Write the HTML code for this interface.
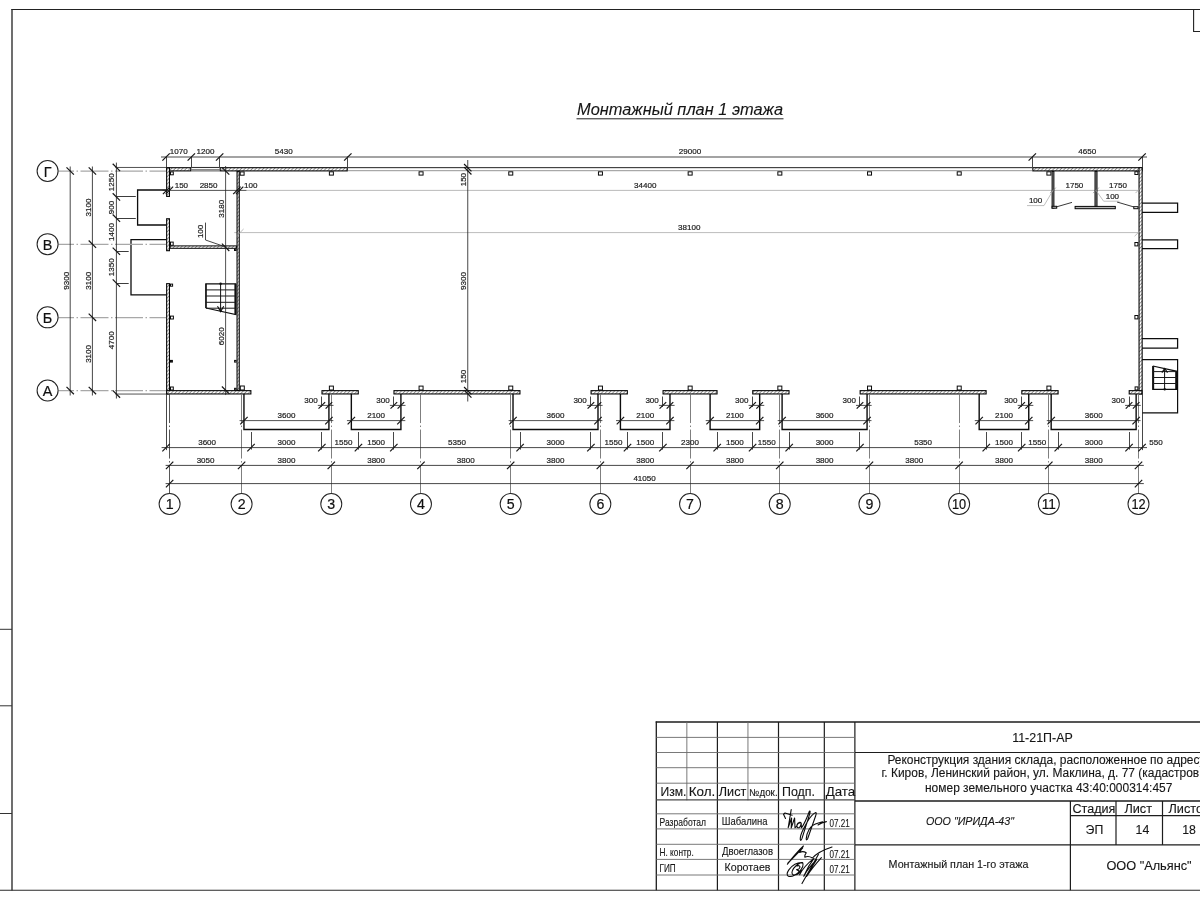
<!DOCTYPE html>
<html lang="ru">
<head>
<meta charset="utf-8">
<title>Монтажный план 1 этажа</title>
<style>
html,body{margin:0;padding:0;background:#fff;}
body{width:1200px;height:900px;overflow:hidden;font-family:"Liberation Sans",sans-serif;}
svg{display:block;will-change:transform;font-family:"Liberation Sans",sans-serif;}
</style>
</head>
<body>
<svg width="1200" height="900" viewBox="0 0 1200 900">
<defs>
<pattern id="h" width="2.6" height="2.6" patternUnits="userSpaceOnUse" patternTransform="rotate(-45)">
<rect width="2.6" height="2.6" fill="#ffffff"/>
<line x1="0" y1="1.3" x2="2.6" y2="1.3" stroke="#808080" stroke-width="0.8"/>
</pattern>
</defs>
<g id="plan" opacity="0.999">
<line x1="246.5" y1="190.4" x2="1138.5" y2="190.4" stroke="#a9a9a9" stroke-width="0.8"/>
<line x1="234.3" y1="232.6" x2="1138.5" y2="232.6" stroke="#a9a9a9" stroke-width="0.8"/>
<polyline points="243.95,394.05 243.95,429.5 328.92,429.5 328.92,394.05" fill="none" stroke="#0d0d0d" stroke-width="1.4" />
<polyline points="351.34,394.05 351.34,429.5 400.91,429.5 400.91,394.05" fill="none" stroke="#0d0d0d" stroke-width="1.4" />
<polyline points="513.02,394.05 513.02,429.5 597.99,429.5 597.99,394.05" fill="none" stroke="#0d0d0d" stroke-width="1.4" />
<polyline points="620.42,394.05 620.42,429.5 669.98,429.5 669.98,394.05" fill="none" stroke="#0d0d0d" stroke-width="1.4" />
<polyline points="710.11,394.05 710.11,429.5 759.68,429.5 759.68,394.05" fill="none" stroke="#0d0d0d" stroke-width="1.4" />
<polyline points="782.1,394.05 782.1,429.5 867.07,429.5 867.07,394.05" fill="none" stroke="#0d0d0d" stroke-width="1.4" />
<polyline points="979.18,394.05 979.18,429.5 1028.75,429.5 1028.75,394.05" fill="none" stroke="#0d0d0d" stroke-width="1.4" />
<polyline points="1051.17,394.05 1051.17,429.5 1136.14,429.5 1136.14,394.05" fill="none" stroke="#0d0d0d" stroke-width="1.4" />
<rect x="166.65" y="167.7" width="24.11" height="3.2" fill="url(#h)" stroke="#050505" stroke-width="1.1"/>
<rect x="220.19" y="167.7" width="127.06" height="3.2" fill="url(#h)" stroke="#050505" stroke-width="1.1"/>
<rect x="1032.84" y="167.7" width="109.31" height="3.2" fill="url(#h)" stroke="#050505" stroke-width="1.1"/>
<line x1="191.31" y1="167.46" x2="219.64" y2="167.46" stroke="#111" stroke-width="0.9" />
<line x1="191.31" y1="169.46" x2="219.64" y2="169.46" stroke="#333" stroke-width="0.6" />
<line x1="191.31" y1="170.9" x2="219.64" y2="170.9" stroke="#222" stroke-width="0.8" />
<line x1="347.8" y1="167.66" x2="1032.29" y2="167.66" stroke="#222" stroke-width="1.0" />
<line x1="347.8" y1="170.7" x2="1032.29" y2="170.7" stroke="#777" stroke-width="0.8" />
<rect x="166.65" y="167.85" width="2.8" height="28.56" fill="url(#h)" stroke="#050505" stroke-width="1.1"/>
<rect x="166.65" y="218.76" width="2.8" height="31.94" fill="url(#h)" stroke="#050505" stroke-width="1.1"/>
<rect x="166.65" y="283.66" width="2.8" height="110.29" fill="url(#h)" stroke="#050505" stroke-width="1.1"/>
<rect x="1139.05" y="167.7" width="3.1" height="226.25" fill="url(#h)" stroke="#050505" stroke-width="1.1"/>
<rect x="166.65" y="390.65" width="84.23" height="3.3" fill="url(#h)" stroke="#050505" stroke-width="1.1"/>
<rect x="321.99" y="390.65" width="36.28" height="3.3" fill="url(#h)" stroke="#050505" stroke-width="1.1"/>
<rect x="393.98" y="390.65" width="125.98" height="3.3" fill="url(#h)" stroke="#050505" stroke-width="1.1"/>
<rect x="591.06" y="390.65" width="36.28" height="3.3" fill="url(#h)" stroke="#050505" stroke-width="1.1"/>
<rect x="663.05" y="390.65" width="53.99" height="3.3" fill="url(#h)" stroke="#050505" stroke-width="1.1"/>
<rect x="752.74" y="390.65" width="36.28" height="3.3" fill="url(#h)" stroke="#050505" stroke-width="1.1"/>
<rect x="860.14" y="390.65" width="125.98" height="3.3" fill="url(#h)" stroke="#050505" stroke-width="1.1"/>
<rect x="1021.82" y="390.65" width="36.28" height="3.3" fill="url(#h)" stroke="#050505" stroke-width="1.1"/>
<rect x="1129.21" y="390.65" width="12.68" height="3.3" fill="url(#h)" stroke="#050505" stroke-width="1.1"/>
<rect x="237.05" y="171.35" width="2.2" height="219.1" fill="url(#h)" stroke="#050505" stroke-width="1.1"/>
<rect x="170.1" y="245.9" width="66.3" height="2.4" fill="url(#h)" stroke="#050505" stroke-width="1.0"/>
<polyline points="166.06,190 137.6,190 137.6,225 166.06,225" fill="none" stroke="#0d0d0d" stroke-width="1.3" />
<polyline points="166.06,239.7 131,239.7 131,294.8 166.06,294.8" fill="none" stroke="#0d0d0d" stroke-width="1.3" />
<polyline points="1142.04,203.2 1177.6,203.2 1177.6,212.4 1142.04,212.4" fill="none" stroke="#0d0d0d" stroke-width="1.25" />
<polyline points="1142.04,239.8 1177.6,239.8 1177.6,248.5 1142.04,248.5" fill="none" stroke="#0d0d0d" stroke-width="1.25" />
<polyline points="1142.04,338.7 1177.6,338.7 1177.6,348.2 1142.04,348.2" fill="none" stroke="#0d0d0d" stroke-width="1.25" />
<polyline points="1142.04,359.6 1177.6,359.6 1177.6,412.8 1142.04,412.8" fill="none" stroke="#0d0d0d" stroke-width="1.2" />
<polyline points="1152.8,366 1152.8,389.3 1177,389.3 1177,371.3 1152.8,366" fill="none" stroke="#0d0d0d" stroke-width="1.2" />
<line x1="1153.3" y1="366.2" x2="1153.3" y2="389.3" stroke="#111" stroke-width="1.7" />
<line x1="1176.4" y1="371.2" x2="1176.4" y2="389.6" stroke="#0a0a0a" stroke-width="2.4" />
<line x1="1152.8" y1="371.6" x2="1177" y2="371.6" stroke="#1a1a1a" stroke-width="1.0" />
<line x1="1152.8" y1="377.5" x2="1177" y2="377.5" stroke="#1a1a1a" stroke-width="1.0" />
<line x1="1152.8" y1="383.5" x2="1177" y2="383.5" stroke="#1a1a1a" stroke-width="1.0" />
<line x1="1164.6" y1="389.4" x2="1164.6" y2="368.9" stroke="#111" stroke-width="1.0" />
<polyline points="1161.9,372.6 1164.7,368.5 1167.5,372.6" fill="none" stroke="#0d0d0d" stroke-width="1.1" />
<circle cx="1164.7" cy="389.3" r="1.2" fill="#111"/>
<polyline points="205.9,308 205.9,283.8 235.7,283.8 235.7,314.6 205.9,308" fill="none" stroke="#0d0d0d" stroke-width="1.2" />
<line x1="206" y1="283.8" x2="206" y2="308" stroke="#111" stroke-width="1.3" />
<line x1="235.4" y1="283.8" x2="235.4" y2="314.6" stroke="#111" stroke-width="2.0" />
<line x1="205.9" y1="289.9" x2="235.7" y2="289.9" stroke="#1a1a1a" stroke-width="1.0" />
<line x1="205.9" y1="296" x2="235.7" y2="296" stroke="#1a1a1a" stroke-width="1.0" />
<line x1="205.9" y1="302.3" x2="235.7" y2="302.3" stroke="#1a1a1a" stroke-width="1.0" />
<line x1="205.9" y1="308.2" x2="235.7" y2="308.2" stroke="#1a1a1a" stroke-width="1.0" />
<line x1="220.6" y1="283.8" x2="220.6" y2="311.2" stroke="#111" stroke-width="1.0" />
<polyline points="217.5,306.3 220.6,311.6 223.7,306.3" fill="none" stroke="#0d0d0d" stroke-width="1.1" />
<circle cx="220.6" cy="283.8" r="1.25" fill="#111"/>
<rect x="1052.1" y="171.3" width="1.8" height="36.8" fill="#9c9c9c" stroke="#050505" stroke-width="1.0"/>
<rect x="1052.1" y="206.3" width="4.6" height="1.9" fill="#ccc" stroke="#0a0a0a" stroke-width="1.0"/>
<rect x="1095.03" y="171.33" width="1.95" height="35.15" fill="#9c9c9c" stroke="#050505" stroke-width="1.05"/>
<rect x="1075.1" y="206.4" width="40.2" height="2.3" fill="#b5b5b5" stroke="#050505" stroke-width="1.0"/>
<line x1="1056" y1="207" x2="1072" y2="202.4" stroke="#222" stroke-width="0.9" />
<line x1="1117" y1="202" x2="1134" y2="207" stroke="#222" stroke-width="0.9" />
<rect x="329.38" y="171.8" width="4" height="3.3" fill="#fff" stroke="#0a0a0a" stroke-width="1.0"/>
<rect x="419.07" y="171.8" width="4" height="3.3" fill="#fff" stroke="#0a0a0a" stroke-width="1.0"/>
<rect x="508.76" y="171.8" width="4" height="3.3" fill="#fff" stroke="#0a0a0a" stroke-width="1.0"/>
<rect x="598.45" y="171.8" width="4" height="3.3" fill="#fff" stroke="#0a0a0a" stroke-width="1.0"/>
<rect x="688.15" y="171.8" width="4" height="3.3" fill="#fff" stroke="#0a0a0a" stroke-width="1.0"/>
<rect x="777.84" y="171.8" width="4" height="3.3" fill="#fff" stroke="#0a0a0a" stroke-width="1.0"/>
<rect x="867.53" y="171.8" width="4" height="3.3" fill="#fff" stroke="#0a0a0a" stroke-width="1.0"/>
<rect x="957.22" y="171.8" width="4" height="3.3" fill="#fff" stroke="#0a0a0a" stroke-width="1.0"/>
<rect x="1046.91" y="171.8" width="4" height="3.3" fill="#fff" stroke="#0a0a0a" stroke-width="1.0"/>
<rect x="240.3" y="386" width="4" height="4" fill="#fff" stroke="#0a0a0a" stroke-width="1.0"/>
<rect x="329.38" y="386.1" width="4" height="3.9" fill="#fff" stroke="#0a0a0a" stroke-width="1.0"/>
<rect x="419.07" y="386.1" width="4" height="3.9" fill="#fff" stroke="#0a0a0a" stroke-width="1.0"/>
<rect x="508.76" y="386.1" width="4" height="3.9" fill="#fff" stroke="#0a0a0a" stroke-width="1.0"/>
<rect x="598.45" y="386.1" width="4" height="3.9" fill="#fff" stroke="#0a0a0a" stroke-width="1.0"/>
<rect x="688.15" y="386.1" width="4" height="3.9" fill="#fff" stroke="#0a0a0a" stroke-width="1.0"/>
<rect x="777.84" y="386.1" width="4" height="3.9" fill="#fff" stroke="#0a0a0a" stroke-width="1.0"/>
<rect x="867.53" y="386.1" width="4" height="3.9" fill="#fff" stroke="#0a0a0a" stroke-width="1.0"/>
<rect x="957.22" y="386.1" width="4" height="3.9" fill="#fff" stroke="#0a0a0a" stroke-width="1.0"/>
<rect x="1046.91" y="386.1" width="4" height="3.9" fill="#fff" stroke="#0a0a0a" stroke-width="1.0"/>
<rect x="170.5" y="171.9" width="2.8" height="2.9" fill="#fff" stroke="#0a0a0a" stroke-width="1.0"/>
<rect x="240.2" y="171.9" width="3.9" height="3.3" fill="#fff" stroke="#0a0a0a" stroke-width="1.0"/>
<rect x="170.5" y="242.1" width="2.7" height="3.2" fill="#fff" stroke="#0a0a0a" stroke-width="1.0"/>
<rect x="170.5" y="284.1" width="2.1" height="2.1" fill="#fff" stroke="#0a0a0a" stroke-width="1.0"/>
<rect x="170.5" y="316.1" width="2.9" height="2.9" fill="#fff" stroke="#0a0a0a" stroke-width="1.0"/>
<rect x="170.5" y="360.4" width="1.9" height="1.7" fill="#fff" stroke="#0a0a0a" stroke-width="1.0"/>
<rect x="170.5" y="387" width="2.8" height="3" fill="#fff" stroke="#0a0a0a" stroke-width="1.0"/>
<rect x="234.5" y="249.1" width="1.6" height="1.4" fill="#fff" stroke="#0a0a0a" stroke-width="1.0"/>
<rect x="234.6" y="360.4" width="1.5" height="1.7" fill="#fff" stroke="#0a0a0a" stroke-width="1.0"/>
<rect x="234.6" y="388.3" width="1.5" height="1.7" fill="#fff" stroke="#0a0a0a" stroke-width="1.0"/>
<rect x="1134.9" y="171.7" width="3" height="2.8" fill="#fff" stroke="#0a0a0a" stroke-width="1.0"/>
<rect x="1133.8" y="206.7" width="4.2" height="2" fill="#fff" stroke="#0a0a0a" stroke-width="1.0"/>
<rect x="1134.9" y="242.5" width="3" height="3.4" fill="#fff" stroke="#0a0a0a" stroke-width="1.0"/>
<rect x="1134.9" y="315.5" width="3" height="3.4" fill="#fff" stroke="#0a0a0a" stroke-width="1.0"/>
<rect x="1135.1" y="386.9" width="2.8" height="3.1" fill="#fff" stroke="#0a0a0a" stroke-width="1.0"/>
<line x1="12" y1="9.5" x2="12" y2="890.5" stroke="#555" stroke-width="1.7" />
<line x1="11.2" y1="9.5" x2="1200" y2="9.5" stroke="#222" stroke-width="1.2" />
<line x1="0" y1="890.3" x2="1200" y2="890.3" stroke="#2a2a2a" stroke-width="1.1" />
<line x1="0" y1="629.3" x2="12" y2="629.3" stroke="#333" stroke-width="1.0" />
<line x1="0" y1="705.8" x2="12" y2="705.8" stroke="#333" stroke-width="1.0" />
<line x1="0" y1="813.5" x2="12" y2="813.5" stroke="#333" stroke-width="1.0" />
<polyline points="1193.6,9.5 1193.6,31.5 1200,31.5" fill="none" stroke="#222" stroke-width="1.1" />
<text x="577" y="114.6" font-size="16.2" text-anchor="start" fill="#151515" stroke="#151515" stroke-width="0.1" font-style="italic" textLength="206" lengthAdjust="spacingAndGlyphs">Монтажный план 1 этажа</text>
<line x1="576.5" y1="118.8" x2="783.5" y2="118.8" stroke="#222" stroke-width="1.0" />
<line x1="58.3" y1="171.2" x2="166.06" y2="171.2" stroke="#a8a8a8" stroke-width="1.2" stroke-dasharray="28 2.5 1.5 2.5" stroke-dashoffset="12.3"/>
<line x1="58.3" y1="244.37" x2="166.06" y2="244.37" stroke="#a8a8a8" stroke-width="1.2" stroke-dasharray="28 2.5 1.5 2.5" stroke-dashoffset="12.3"/>
<line x1="58.3" y1="317.54" x2="166.06" y2="317.54" stroke="#a8a8a8" stroke-width="1.2" stroke-dasharray="28 2.5 1.5 2.5" stroke-dashoffset="12.3"/>
<line x1="58.3" y1="390.71" x2="166.06" y2="390.71" stroke="#a8a8a8" stroke-width="1.2" stroke-dasharray="28 2.5 1.5 2.5" stroke-dashoffset="12.3"/>
<line x1="169.5" y1="394.05" x2="169.5" y2="493.5" stroke="#444" stroke-width="0.9" stroke-dasharray="29 2.5 1.5 2.5"/>
<line x1="241.5" y1="394.05" x2="241.5" y2="493.5" stroke="#707070" stroke-width="0.9" stroke-dasharray="29 2.5 1.5 2.5"/>
<line x1="331.5" y1="394.05" x2="331.5" y2="493.5" stroke="#707070" stroke-width="0.9" stroke-dasharray="29 2.5 1.5 2.5"/>
<line x1="420.5" y1="394.05" x2="420.5" y2="493.5" stroke="#707070" stroke-width="0.9" stroke-dasharray="29 2.5 1.5 2.5"/>
<line x1="510.5" y1="394.05" x2="510.5" y2="493.5" stroke="#707070" stroke-width="0.9" stroke-dasharray="29 2.5 1.5 2.5"/>
<line x1="600.5" y1="394.05" x2="600.5" y2="493.5" stroke="#707070" stroke-width="0.9" stroke-dasharray="29 2.5 1.5 2.5"/>
<line x1="690.5" y1="394.05" x2="690.5" y2="493.5" stroke="#707070" stroke-width="0.9" stroke-dasharray="29 2.5 1.5 2.5"/>
<line x1="779.5" y1="394.05" x2="779.5" y2="493.5" stroke="#707070" stroke-width="0.9" stroke-dasharray="29 2.5 1.5 2.5"/>
<line x1="869.5" y1="394.05" x2="869.5" y2="493.5" stroke="#707070" stroke-width="0.9" stroke-dasharray="29 2.5 1.5 2.5"/>
<line x1="959.5" y1="394.05" x2="959.5" y2="493.5" stroke="#707070" stroke-width="0.9" stroke-dasharray="29 2.5 1.5 2.5"/>
<line x1="1048.5" y1="394.05" x2="1048.5" y2="493.5" stroke="#707070" stroke-width="0.9" stroke-dasharray="29 2.5 1.5 2.5"/>
<line x1="1138.5" y1="394.05" x2="1138.5" y2="493.5" stroke="#707070" stroke-width="0.9" stroke-dasharray="29 2.5 1.5 2.5"/>
<circle cx="47.6" cy="171" r="10.5" fill="#fff" stroke="#222" stroke-width="1.05"/>
<text x="47.6" y="176.5" font-size="14.4" text-anchor="middle" fill="#111" stroke="#111" stroke-width="0.2" >Г</text>
<circle cx="47.6" cy="244.17" r="10.5" fill="#fff" stroke="#222" stroke-width="1.05"/>
<text x="47.6" y="249.67" font-size="14.4" text-anchor="middle" fill="#111" stroke="#111" stroke-width="0.2" >В</text>
<circle cx="47.6" cy="317.34" r="10.5" fill="#fff" stroke="#222" stroke-width="1.05"/>
<text x="47.6" y="322.84" font-size="14.4" text-anchor="middle" fill="#111" stroke="#111" stroke-width="0.2" >Б</text>
<circle cx="47.6" cy="390.51" r="10.5" fill="#fff" stroke="#222" stroke-width="1.05"/>
<text x="47.6" y="396.01" font-size="14.4" text-anchor="middle" fill="#111" stroke="#111" stroke-width="0.2" >А</text>
<circle cx="169.6" cy="504" r="10.5" fill="#fff" stroke="#222" stroke-width="1.05"/>
<text x="169.6" y="509.1" font-size="14.2" text-anchor="middle" fill="#111" stroke="#111" stroke-width="0.2" >1</text>
<circle cx="241.59" cy="504" r="10.5" fill="#fff" stroke="#222" stroke-width="1.05"/>
<text x="241.59" y="509.1" font-size="14.2" text-anchor="middle" fill="#111" stroke="#111" stroke-width="0.2" >2</text>
<circle cx="331.28" cy="504" r="10.5" fill="#fff" stroke="#222" stroke-width="1.05"/>
<text x="331.28" y="509.1" font-size="14.2" text-anchor="middle" fill="#111" stroke="#111" stroke-width="0.2" >3</text>
<circle cx="420.97" cy="504" r="10.5" fill="#fff" stroke="#222" stroke-width="1.05"/>
<text x="420.97" y="509.1" font-size="14.2" text-anchor="middle" fill="#111" stroke="#111" stroke-width="0.2" >4</text>
<circle cx="510.66" cy="504" r="10.5" fill="#fff" stroke="#222" stroke-width="1.05"/>
<text x="510.66" y="509.1" font-size="14.2" text-anchor="middle" fill="#111" stroke="#111" stroke-width="0.2" >5</text>
<circle cx="600.35" cy="504" r="10.5" fill="#fff" stroke="#222" stroke-width="1.05"/>
<text x="600.35" y="509.1" font-size="14.2" text-anchor="middle" fill="#111" stroke="#111" stroke-width="0.2" >6</text>
<circle cx="690.05" cy="504" r="10.5" fill="#fff" stroke="#222" stroke-width="1.05"/>
<text x="690.05" y="509.1" font-size="14.2" text-anchor="middle" fill="#111" stroke="#111" stroke-width="0.2" >7</text>
<circle cx="779.74" cy="504" r="10.5" fill="#fff" stroke="#222" stroke-width="1.05"/>
<text x="779.74" y="509.1" font-size="14.2" text-anchor="middle" fill="#111" stroke="#111" stroke-width="0.2" >8</text>
<circle cx="869.43" cy="504" r="10.5" fill="#fff" stroke="#222" stroke-width="1.05"/>
<text x="869.43" y="509.1" font-size="14.2" text-anchor="middle" fill="#111" stroke="#111" stroke-width="0.2" >9</text>
<circle cx="959.12" cy="504" r="10.5" fill="#fff" stroke="#222" stroke-width="1.05"/>
<text x="959.12" y="509.1" font-size="14.2" text-anchor="middle" fill="#111" stroke="#111" stroke-width="0.2" textLength="14.2" lengthAdjust="spacingAndGlyphs">10</text>
<circle cx="1048.81" cy="504" r="10.5" fill="#fff" stroke="#222" stroke-width="1.05"/>
<text x="1048.81" y="509.1" font-size="14.2" text-anchor="middle" fill="#111" stroke="#111" stroke-width="0.2" textLength="14.2" lengthAdjust="spacingAndGlyphs">11</text>
<circle cx="1138.5" cy="504" r="10.5" fill="#fff" stroke="#222" stroke-width="1.05"/>
<text x="1138.5" y="509.1" font-size="14.2" text-anchor="middle" fill="#111" stroke="#111" stroke-width="0.2" textLength="14.2" lengthAdjust="spacingAndGlyphs">12</text>
<line x1="70.2" y1="166.5" x2="70.2" y2="395.51" stroke="#262626" stroke-width="0.85" />
<line x1="66.5" y1="167.3" x2="73.9" y2="174.7" stroke="#151515" stroke-width="1.2" />
<line x1="66.5" y1="386.81" x2="73.9" y2="394.21" stroke="#151515" stroke-width="1.2" />
<text x="68.6" y="280.75" font-size="8.05" text-anchor="middle" fill="#1c1c1c" stroke="#1c1c1c" stroke-width="0.2" transform="rotate(-90 68.6 280.75)" >9300</text>
<line x1="92.4" y1="166.5" x2="92.4" y2="395.51" stroke="#262626" stroke-width="0.85" />
<line x1="88.7" y1="167.3" x2="96.1" y2="174.7" stroke="#151515" stroke-width="1.2" />
<line x1="88.7" y1="240.47" x2="96.1" y2="247.87" stroke="#151515" stroke-width="1.2" />
<line x1="88.7" y1="313.64" x2="96.1" y2="321.04" stroke="#151515" stroke-width="1.2" />
<line x1="88.7" y1="386.81" x2="96.1" y2="394.21" stroke="#151515" stroke-width="1.2" />
<text x="91" y="207.58" font-size="8.05" text-anchor="middle" fill="#1c1c1c" stroke="#1c1c1c" stroke-width="0.2" transform="rotate(-90 91 207.58)" >3100</text>
<text x="91" y="280.75" font-size="8.05" text-anchor="middle" fill="#1c1c1c" stroke="#1c1c1c" stroke-width="0.2" transform="rotate(-90 91 280.75)" >3100</text>
<text x="91" y="353.92" font-size="8.05" text-anchor="middle" fill="#1c1c1c" stroke="#1c1c1c" stroke-width="0.2" transform="rotate(-90 91 353.92)" >3100</text>
<line x1="116.4" y1="162.6" x2="116.4" y2="398.55" stroke="#262626" stroke-width="0.85" />
<line x1="112.7" y1="163.76" x2="120.1" y2="171.16" stroke="#151515" stroke-width="1.2" />
<line x1="112.7" y1="193.26" x2="120.1" y2="200.66" stroke="#151515" stroke-width="1.2" />
<line x1="112.7" y1="214.51" x2="120.1" y2="221.91" stroke="#151515" stroke-width="1.2" />
<line x1="112.7" y1="247.55" x2="120.1" y2="254.95" stroke="#151515" stroke-width="1.2" />
<line x1="112.7" y1="279.41" x2="120.1" y2="286.81" stroke="#151515" stroke-width="1.2" />
<line x1="112.7" y1="390.35" x2="120.1" y2="397.75" stroke="#151515" stroke-width="1.2" />
<line x1="115.4" y1="167.46" x2="166.06" y2="167.46" stroke="#262626" stroke-width="0.8" />
<line x1="116.4" y1="196.5" x2="135.8" y2="196.5" stroke="#262626" stroke-width="0.9" />
<line x1="116.4" y1="218.5" x2="135.8" y2="218.5" stroke="#262626" stroke-width="0.9" />
<line x1="116.4" y1="251.5" x2="128.7" y2="251.5" stroke="#262626" stroke-width="0.9" />
<line x1="116.4" y1="283.5" x2="128.7" y2="283.5" stroke="#262626" stroke-width="0.9" />
<line x1="115.4" y1="394.05" x2="166.06" y2="394.05" stroke="#262626" stroke-width="0.8" />
<text x="114.4" y="182.21" font-size="8.05" text-anchor="middle" fill="#1c1c1c" stroke="#1c1c1c" stroke-width="0.2" transform="rotate(-90 114.4 182.21)" >1250</text>
<text x="114.4" y="207.58" font-size="8.05" text-anchor="middle" fill="#1c1c1c" stroke="#1c1c1c" stroke-width="0.2" transform="rotate(-90 114.4 207.58)" >900</text>
<text x="114.4" y="232" font-size="8.05" text-anchor="middle" fill="#1c1c1c" stroke="#1c1c1c" stroke-width="0.2" transform="rotate(-90 114.4 232)" >1400</text>
<text x="114.4" y="267.18" font-size="8.05" text-anchor="middle" fill="#1c1c1c" stroke="#1c1c1c" stroke-width="0.2" transform="rotate(-90 114.4 267.18)" >1350</text>
<text x="114.4" y="340.3" font-size="8.05" text-anchor="middle" fill="#1c1c1c" stroke="#1c1c1c" stroke-width="0.2" transform="rotate(-90 114.4 340.3)" >4700</text>
<line x1="161" y1="157" x2="1147" y2="157" stroke="#262626" stroke-width="0.85" />
<line x1="162.36" y1="160.7" x2="169.76" y2="153.3" stroke="#151515" stroke-width="1.2" />
<line x1="166.5" y1="156.5" x2="166.5" y2="167.46" stroke="#262626" stroke-width="0.85" />
<line x1="187.61" y1="160.7" x2="195.01" y2="153.3" stroke="#151515" stroke-width="1.2" />
<line x1="191.5" y1="156.5" x2="191.5" y2="167.46" stroke="#262626" stroke-width="0.85" />
<line x1="215.94" y1="160.7" x2="223.34" y2="153.3" stroke="#151515" stroke-width="1.2" />
<line x1="219.5" y1="156.5" x2="219.5" y2="167.46" stroke="#262626" stroke-width="0.85" />
<line x1="344.1" y1="160.7" x2="351.5" y2="153.3" stroke="#151515" stroke-width="1.2" />
<line x1="347.5" y1="156.5" x2="347.5" y2="167.46" stroke="#262626" stroke-width="0.85" />
<line x1="1028.59" y1="160.7" x2="1035.99" y2="153.3" stroke="#151515" stroke-width="1.2" />
<line x1="1032.5" y1="156.5" x2="1032.5" y2="167.46" stroke="#262626" stroke-width="0.85" />
<line x1="1138.34" y1="160.7" x2="1145.74" y2="153.3" stroke="#151515" stroke-width="1.2" />
<line x1="1142.5" y1="156.5" x2="1142.5" y2="167.46" stroke="#262626" stroke-width="0.85" />
<text x="178.69" y="154.4" font-size="8.05" text-anchor="middle" fill="#1c1c1c" stroke="#1c1c1c" stroke-width="0.2" >1070</text>
<text x="205.48" y="154.4" font-size="8.05" text-anchor="middle" fill="#1c1c1c" stroke="#1c1c1c" stroke-width="0.2" >1200</text>
<text x="283.72" y="154.4" font-size="8.05" text-anchor="middle" fill="#1c1c1c" stroke="#1c1c1c" stroke-width="0.2" >5430</text>
<text x="690" y="154.4" font-size="8.05" text-anchor="middle" fill="#1c1c1c" stroke="#1c1c1c" stroke-width="0.2" >29000</text>
<text x="1087.17" y="154.4" font-size="8.05" text-anchor="middle" fill="#1c1c1c" stroke="#1c1c1c" stroke-width="0.2" >4650</text>
<line x1="162.5" y1="190.4" x2="246.5" y2="190.4" stroke="#262626" stroke-width="0.8" />
<line x1="162.9" y1="194.1" x2="170.3" y2="186.7" stroke="#151515" stroke-width="1.2" />
<line x1="165.7" y1="194.1" x2="173.1" y2="186.7" stroke="#151515" stroke-width="1.2" />
<line x1="233.2" y1="194.1" x2="240.6" y2="186.7" stroke="#151515" stroke-width="1.2" />
<line x1="235.9" y1="194.1" x2="243.3" y2="186.7" stroke="#151515" stroke-width="1.2" />
<text x="181.4" y="187.5" font-size="8.05" text-anchor="middle" fill="#1c1c1c" stroke="#1c1c1c" stroke-width="0.2" >150</text>
<text x="208.6" y="187.5" font-size="8.05" text-anchor="middle" fill="#1c1c1c" stroke="#1c1c1c" stroke-width="0.2" >2850</text>
<text x="250.8" y="187.5" font-size="8.05" text-anchor="middle" fill="#1c1c1c" stroke="#1c1c1c" stroke-width="0.2" >100</text>
<text x="645.2" y="187.6" font-size="8.05" text-anchor="middle" fill="#1c1c1c" stroke="#1c1c1c" stroke-width="0.2" >34400</text>
<line x1="236.4" y1="236.2" x2="243.6" y2="229" stroke="#a9a9a9" stroke-width="0.8" />
<line x1="1134.6" y1="236.2" x2="1141.8" y2="229" stroke="#a9a9a9" stroke-width="0.8" />
<text x="689.2" y="230.4" font-size="8.05" text-anchor="middle" fill="#1c1c1c" stroke="#1c1c1c" stroke-width="0.2" >38100</text>
<line x1="467.75" y1="160" x2="467.75" y2="401.5" stroke="#262626" stroke-width="0.85" />
<line x1="464.05" y1="163.96" x2="471.45" y2="171.36" stroke="#151515" stroke-width="1.2" />
<line x1="464.05" y1="167.1" x2="471.45" y2="174.5" stroke="#151515" stroke-width="1.2" />
<line x1="464.05" y1="387.01" x2="471.45" y2="394.41" stroke="#151515" stroke-width="1.2" />
<line x1="464.05" y1="390.15" x2="471.45" y2="397.55" stroke="#151515" stroke-width="1.2" />
<text x="465.7" y="179.6" font-size="8.05" text-anchor="middle" fill="#1c1c1c" stroke="#1c1c1c" stroke-width="0.2" transform="rotate(-90 465.7 179.6)" >150</text>
<text x="465.7" y="281" font-size="8.05" text-anchor="middle" fill="#1c1c1c" stroke="#1c1c1c" stroke-width="0.2" transform="rotate(-90 465.7 281)" >9300</text>
<text x="465.7" y="376.5" font-size="8.05" text-anchor="middle" fill="#1c1c1c" stroke="#1c1c1c" stroke-width="0.2" transform="rotate(-90 465.7 376.5)" >150</text>
<line x1="225.6" y1="166" x2="225.6" y2="395.05" stroke="#262626" stroke-width="0.8" />
<line x1="221.9" y1="167.3" x2="229.3" y2="174.7" stroke="#151515" stroke-width="1.2" />
<line x1="221.9" y1="243.6" x2="229.3" y2="251" stroke="#151515" stroke-width="1.2" />
<line x1="221.9" y1="386.51" x2="229.3" y2="393.91" stroke="#151515" stroke-width="1.2" />
<text x="223.8" y="208.8" font-size="8.05" text-anchor="middle" fill="#1c1c1c" stroke="#1c1c1c" stroke-width="0.2" transform="rotate(-90 223.8 208.8)" >3180</text>
<text x="223.8" y="336.3" font-size="8.05" text-anchor="middle" fill="#1c1c1c" stroke="#1c1c1c" stroke-width="0.2" transform="rotate(-90 223.8 336.3)" >6020</text>
<polyline points="205.5,222.6 205.5,240 225.8,247" fill="none" stroke="#262626" stroke-width="0.85" />
<text x="203.3" y="231.4" font-size="8.05" text-anchor="middle" fill="#1c1c1c" stroke="#1c1c1c" stroke-width="0.2" transform="rotate(-90 203.3 231.4)" >100</text>
<line x1="161.6" y1="447.6" x2="1147" y2="447.6" stroke="#262626" stroke-width="0.85" />
<line x1="162.36" y1="451.3" x2="169.76" y2="443.9" stroke="#151515" stroke-width="1.2" />
<line x1="166.5" y1="394.05" x2="166.5" y2="450.1" stroke="#262626" stroke-width="0.85" />
<line x1="247.33" y1="451.3" x2="254.73" y2="443.9" stroke="#151515" stroke-width="1.2" />
<line x1="251.5" y1="432" x2="251.5" y2="449.6" stroke="#262626" stroke-width="0.85" />
<line x1="318.14" y1="451.3" x2="325.54" y2="443.9" stroke="#151515" stroke-width="1.2" />
<line x1="321.5" y1="432" x2="321.5" y2="449.6" stroke="#262626" stroke-width="0.85" />
<line x1="354.72" y1="451.3" x2="362.12" y2="443.9" stroke="#151515" stroke-width="1.2" />
<line x1="358.5" y1="432" x2="358.5" y2="449.6" stroke="#262626" stroke-width="0.85" />
<line x1="390.13" y1="451.3" x2="397.53" y2="443.9" stroke="#151515" stroke-width="1.2" />
<line x1="393.5" y1="432" x2="393.5" y2="449.6" stroke="#262626" stroke-width="0.85" />
<line x1="516.4" y1="451.3" x2="523.8" y2="443.9" stroke="#151515" stroke-width="1.2" />
<line x1="520.5" y1="432" x2="520.5" y2="449.6" stroke="#262626" stroke-width="0.85" />
<line x1="587.21" y1="451.3" x2="594.61" y2="443.9" stroke="#151515" stroke-width="1.2" />
<line x1="590.5" y1="432" x2="590.5" y2="449.6" stroke="#262626" stroke-width="0.85" />
<line x1="623.8" y1="451.3" x2="631.2" y2="443.9" stroke="#151515" stroke-width="1.2" />
<line x1="627.5" y1="432" x2="627.5" y2="449.6" stroke="#262626" stroke-width="0.85" />
<line x1="659.2" y1="451.3" x2="666.6" y2="443.9" stroke="#151515" stroke-width="1.2" />
<line x1="662.5" y1="432" x2="662.5" y2="449.6" stroke="#262626" stroke-width="0.85" />
<line x1="713.49" y1="451.3" x2="720.89" y2="443.9" stroke="#151515" stroke-width="1.2" />
<line x1="717.5" y1="432" x2="717.5" y2="449.6" stroke="#262626" stroke-width="0.85" />
<line x1="748.89" y1="451.3" x2="756.29" y2="443.9" stroke="#151515" stroke-width="1.2" />
<line x1="752.5" y1="432" x2="752.5" y2="449.6" stroke="#262626" stroke-width="0.85" />
<line x1="785.48" y1="451.3" x2="792.88" y2="443.9" stroke="#151515" stroke-width="1.2" />
<line x1="789.5" y1="432" x2="789.5" y2="449.6" stroke="#262626" stroke-width="0.85" />
<line x1="856.29" y1="451.3" x2="863.69" y2="443.9" stroke="#151515" stroke-width="1.2" />
<line x1="859.5" y1="432" x2="859.5" y2="449.6" stroke="#262626" stroke-width="0.85" />
<line x1="982.56" y1="451.3" x2="989.96" y2="443.9" stroke="#151515" stroke-width="1.2" />
<line x1="986.5" y1="432" x2="986.5" y2="449.6" stroke="#262626" stroke-width="0.85" />
<line x1="1017.97" y1="451.3" x2="1025.37" y2="443.9" stroke="#151515" stroke-width="1.2" />
<line x1="1021.5" y1="432" x2="1021.5" y2="449.6" stroke="#262626" stroke-width="0.85" />
<line x1="1054.55" y1="451.3" x2="1061.95" y2="443.9" stroke="#151515" stroke-width="1.2" />
<line x1="1058.5" y1="432" x2="1058.5" y2="449.6" stroke="#262626" stroke-width="0.85" />
<line x1="1125.36" y1="451.3" x2="1132.76" y2="443.9" stroke="#151515" stroke-width="1.2" />
<line x1="1129.5" y1="432" x2="1129.5" y2="449.6" stroke="#262626" stroke-width="0.85" />
<line x1="1138.34" y1="451.3" x2="1145.74" y2="443.9" stroke="#151515" stroke-width="1.2" />
<line x1="1142.5" y1="394.05" x2="1142.5" y2="450.1" stroke="#262626" stroke-width="0.85" />
<text x="207.14" y="445" font-size="8.05" text-anchor="middle" fill="#1c1c1c" stroke="#1c1c1c" stroke-width="0.2" >3600</text>
<text x="286.43" y="445" font-size="8.05" text-anchor="middle" fill="#1c1c1c" stroke="#1c1c1c" stroke-width="0.2" >3000</text>
<text x="343.43" y="445" font-size="8.05" text-anchor="middle" fill="#1c1c1c" stroke="#1c1c1c" stroke-width="0.2" >1550</text>
<text x="376.13" y="445" font-size="8.05" text-anchor="middle" fill="#1c1c1c" stroke="#1c1c1c" stroke-width="0.2" >1500</text>
<text x="456.97" y="445" font-size="8.05" text-anchor="middle" fill="#1c1c1c" stroke="#1c1c1c" stroke-width="0.2" >5350</text>
<text x="555.51" y="445" font-size="8.05" text-anchor="middle" fill="#1c1c1c" stroke="#1c1c1c" stroke-width="0.2" >3000</text>
<text x="613.41" y="445" font-size="8.05" text-anchor="middle" fill="#1c1c1c" stroke="#1c1c1c" stroke-width="0.2" >1550</text>
<text x="645.2" y="445" font-size="8.05" text-anchor="middle" fill="#1c1c1c" stroke="#1c1c1c" stroke-width="0.2" >1500</text>
<text x="690.05" y="445" font-size="8.05" text-anchor="middle" fill="#1c1c1c" stroke="#1c1c1c" stroke-width="0.2" >2300</text>
<text x="734.89" y="445" font-size="8.05" text-anchor="middle" fill="#1c1c1c" stroke="#1c1c1c" stroke-width="0.2" >1500</text>
<text x="766.79" y="445" font-size="8.05" text-anchor="middle" fill="#1c1c1c" stroke="#1c1c1c" stroke-width="0.2" >1550</text>
<text x="824.58" y="445" font-size="8.05" text-anchor="middle" fill="#1c1c1c" stroke="#1c1c1c" stroke-width="0.2" >3000</text>
<text x="923.13" y="445" font-size="8.05" text-anchor="middle" fill="#1c1c1c" stroke="#1c1c1c" stroke-width="0.2" >5350</text>
<text x="1003.97" y="445" font-size="8.05" text-anchor="middle" fill="#1c1c1c" stroke="#1c1c1c" stroke-width="0.2" >1500</text>
<text x="1037.26" y="445" font-size="8.05" text-anchor="middle" fill="#1c1c1c" stroke="#1c1c1c" stroke-width="0.2" >1550</text>
<text x="1093.66" y="445" font-size="8.05" text-anchor="middle" fill="#1c1c1c" stroke="#1c1c1c" stroke-width="0.2" >3000</text>
<text x="1156" y="445" font-size="8.05" text-anchor="middle" fill="#1c1c1c" stroke="#1c1c1c" stroke-width="0.2" >550</text>
<line x1="165.6" y1="465.4" x2="1143.8" y2="465.4" stroke="#262626" stroke-width="0.85" />
<line x1="165.9" y1="469.1" x2="173.3" y2="461.7" stroke="#151515" stroke-width="1.2" />
<line x1="237.89" y1="469.1" x2="245.29" y2="461.7" stroke="#151515" stroke-width="1.2" />
<line x1="327.58" y1="469.1" x2="334.98" y2="461.7" stroke="#151515" stroke-width="1.2" />
<line x1="417.27" y1="469.1" x2="424.67" y2="461.7" stroke="#151515" stroke-width="1.2" />
<line x1="506.96" y1="469.1" x2="514.36" y2="461.7" stroke="#151515" stroke-width="1.2" />
<line x1="596.65" y1="469.1" x2="604.05" y2="461.7" stroke="#151515" stroke-width="1.2" />
<line x1="686.35" y1="469.1" x2="693.75" y2="461.7" stroke="#151515" stroke-width="1.2" />
<line x1="776.04" y1="469.1" x2="783.44" y2="461.7" stroke="#151515" stroke-width="1.2" />
<line x1="865.73" y1="469.1" x2="873.13" y2="461.7" stroke="#151515" stroke-width="1.2" />
<line x1="955.42" y1="469.1" x2="962.82" y2="461.7" stroke="#151515" stroke-width="1.2" />
<line x1="1045.11" y1="469.1" x2="1052.51" y2="461.7" stroke="#151515" stroke-width="1.2" />
<line x1="1134.8" y1="469.1" x2="1142.2" y2="461.7" stroke="#151515" stroke-width="1.2" />
<text x="205.59" y="462.5" font-size="8.05" text-anchor="middle" fill="#1c1c1c" stroke="#1c1c1c" stroke-width="0.2" >3050</text>
<text x="286.43" y="462.5" font-size="8.05" text-anchor="middle" fill="#1c1c1c" stroke="#1c1c1c" stroke-width="0.2" >3800</text>
<text x="376.13" y="462.5" font-size="8.05" text-anchor="middle" fill="#1c1c1c" stroke="#1c1c1c" stroke-width="0.2" >3800</text>
<text x="465.82" y="462.5" font-size="8.05" text-anchor="middle" fill="#1c1c1c" stroke="#1c1c1c" stroke-width="0.2" >3800</text>
<text x="555.51" y="462.5" font-size="8.05" text-anchor="middle" fill="#1c1c1c" stroke="#1c1c1c" stroke-width="0.2" >3800</text>
<text x="645.2" y="462.5" font-size="8.05" text-anchor="middle" fill="#1c1c1c" stroke="#1c1c1c" stroke-width="0.2" >3800</text>
<text x="734.89" y="462.5" font-size="8.05" text-anchor="middle" fill="#1c1c1c" stroke="#1c1c1c" stroke-width="0.2" >3800</text>
<text x="824.58" y="462.5" font-size="8.05" text-anchor="middle" fill="#1c1c1c" stroke="#1c1c1c" stroke-width="0.2" >3800</text>
<text x="914.27" y="462.5" font-size="8.05" text-anchor="middle" fill="#1c1c1c" stroke="#1c1c1c" stroke-width="0.2" >3800</text>
<text x="1003.97" y="462.5" font-size="8.05" text-anchor="middle" fill="#1c1c1c" stroke="#1c1c1c" stroke-width="0.2" >3800</text>
<text x="1093.66" y="462.5" font-size="8.05" text-anchor="middle" fill="#1c1c1c" stroke="#1c1c1c" stroke-width="0.2" >3800</text>
<line x1="165.6" y1="483.6" x2="1143.8" y2="483.6" stroke="#262626" stroke-width="0.85" />
<line x1="165.9" y1="487.3" x2="173.3" y2="479.9" stroke="#151515" stroke-width="1.2" />
<line x1="1134.8" y1="487.3" x2="1142.2" y2="479.9" stroke="#151515" stroke-width="1.2" />
<text x="644.6" y="481" font-size="8.05" text-anchor="middle" fill="#1c1c1c" stroke="#1c1c1c" stroke-width="0.2" >41050</text>
<line x1="239.55" y1="420.6" x2="333.32" y2="420.6" stroke="#262626" stroke-width="0.8" />
<line x1="240.25" y1="424.3" x2="247.65" y2="416.9" stroke="#151515" stroke-width="1.2" />
<line x1="325.22" y1="424.3" x2="332.62" y2="416.9" stroke="#151515" stroke-width="1.2" />
<text x="286.43" y="417.7" font-size="8.05" text-anchor="middle" fill="#1c1c1c" stroke="#1c1c1c" stroke-width="0.2" >3600</text>
<line x1="346.94" y1="420.6" x2="405.31" y2="420.6" stroke="#262626" stroke-width="0.8" />
<line x1="347.64" y1="424.3" x2="355.04" y2="416.9" stroke="#151515" stroke-width="1.2" />
<line x1="397.21" y1="424.3" x2="404.61" y2="416.9" stroke="#151515" stroke-width="1.2" />
<text x="376.13" y="417.7" font-size="8.05" text-anchor="middle" fill="#1c1c1c" stroke="#1c1c1c" stroke-width="0.2" >2100</text>
<line x1="508.62" y1="420.6" x2="602.39" y2="420.6" stroke="#262626" stroke-width="0.8" />
<line x1="509.32" y1="424.3" x2="516.72" y2="416.9" stroke="#151515" stroke-width="1.2" />
<line x1="594.29" y1="424.3" x2="601.69" y2="416.9" stroke="#151515" stroke-width="1.2" />
<text x="555.51" y="417.7" font-size="8.05" text-anchor="middle" fill="#1c1c1c" stroke="#1c1c1c" stroke-width="0.2" >3600</text>
<line x1="616.02" y1="420.6" x2="674.38" y2="420.6" stroke="#262626" stroke-width="0.8" />
<line x1="616.72" y1="424.3" x2="624.12" y2="416.9" stroke="#151515" stroke-width="1.2" />
<line x1="666.28" y1="424.3" x2="673.68" y2="416.9" stroke="#151515" stroke-width="1.2" />
<text x="645.2" y="417.7" font-size="8.05" text-anchor="middle" fill="#1c1c1c" stroke="#1c1c1c" stroke-width="0.2" >2100</text>
<line x1="705.71" y1="420.6" x2="764.08" y2="420.6" stroke="#262626" stroke-width="0.8" />
<line x1="706.41" y1="424.3" x2="713.81" y2="416.9" stroke="#151515" stroke-width="1.2" />
<line x1="755.98" y1="424.3" x2="763.38" y2="416.9" stroke="#151515" stroke-width="1.2" />
<text x="734.89" y="417.7" font-size="8.05" text-anchor="middle" fill="#1c1c1c" stroke="#1c1c1c" stroke-width="0.2" >2100</text>
<line x1="777.7" y1="420.6" x2="871.47" y2="420.6" stroke="#262626" stroke-width="0.8" />
<line x1="778.4" y1="424.3" x2="785.8" y2="416.9" stroke="#151515" stroke-width="1.2" />
<line x1="863.37" y1="424.3" x2="870.77" y2="416.9" stroke="#151515" stroke-width="1.2" />
<text x="824.58" y="417.7" font-size="8.05" text-anchor="middle" fill="#1c1c1c" stroke="#1c1c1c" stroke-width="0.2" >3600</text>
<line x1="974.78" y1="420.6" x2="1033.15" y2="420.6" stroke="#262626" stroke-width="0.8" />
<line x1="975.48" y1="424.3" x2="982.88" y2="416.9" stroke="#151515" stroke-width="1.2" />
<line x1="1025.05" y1="424.3" x2="1032.45" y2="416.9" stroke="#151515" stroke-width="1.2" />
<text x="1003.97" y="417.7" font-size="8.05" text-anchor="middle" fill="#1c1c1c" stroke="#1c1c1c" stroke-width="0.2" >2100</text>
<line x1="1046.77" y1="420.6" x2="1140.54" y2="420.6" stroke="#262626" stroke-width="0.8" />
<line x1="1047.47" y1="424.3" x2="1054.87" y2="416.9" stroke="#151515" stroke-width="1.2" />
<line x1="1132.44" y1="424.3" x2="1139.84" y2="416.9" stroke="#151515" stroke-width="1.2" />
<text x="1093.66" y="417.7" font-size="8.05" text-anchor="middle" fill="#1c1c1c" stroke="#1c1c1c" stroke-width="0.2" >3600</text>
<line x1="317.84" y1="405.4" x2="333.52" y2="405.4" stroke="#262626" stroke-width="0.8" />
<line x1="318.54" y1="408.7" x2="325.14" y2="402.1" stroke="#151515" stroke-width="1.2" />
<line x1="325.62" y1="408.7" x2="332.22" y2="402.1" stroke="#151515" stroke-width="1.2" />
<line x1="321.5" y1="396.5" x2="321.5" y2="407" stroke="#262626" stroke-width="0.85" />
<text x="311.04" y="402.7" font-size="8.05" text-anchor="middle" fill="#1c1c1c" stroke="#1c1c1c" stroke-width="0.2" >300</text>
<line x1="389.83" y1="405.4" x2="405.51" y2="405.4" stroke="#262626" stroke-width="0.8" />
<line x1="390.53" y1="408.7" x2="397.13" y2="402.1" stroke="#151515" stroke-width="1.2" />
<line x1="397.61" y1="408.7" x2="404.21" y2="402.1" stroke="#151515" stroke-width="1.2" />
<line x1="393.5" y1="396.5" x2="393.5" y2="407" stroke="#262626" stroke-width="0.85" />
<text x="383.03" y="402.7" font-size="8.05" text-anchor="middle" fill="#1c1c1c" stroke="#1c1c1c" stroke-width="0.2" >300</text>
<line x1="586.91" y1="405.4" x2="602.59" y2="405.4" stroke="#262626" stroke-width="0.8" />
<line x1="587.61" y1="408.7" x2="594.21" y2="402.1" stroke="#151515" stroke-width="1.2" />
<line x1="594.69" y1="408.7" x2="601.29" y2="402.1" stroke="#151515" stroke-width="1.2" />
<line x1="590.5" y1="396.5" x2="590.5" y2="407" stroke="#262626" stroke-width="0.85" />
<text x="580.11" y="402.7" font-size="8.05" text-anchor="middle" fill="#1c1c1c" stroke="#1c1c1c" stroke-width="0.2" >300</text>
<line x1="658.9" y1="405.4" x2="674.58" y2="405.4" stroke="#262626" stroke-width="0.8" />
<line x1="659.6" y1="408.7" x2="666.2" y2="402.1" stroke="#151515" stroke-width="1.2" />
<line x1="666.68" y1="408.7" x2="673.28" y2="402.1" stroke="#151515" stroke-width="1.2" />
<line x1="662.5" y1="396.5" x2="662.5" y2="407" stroke="#262626" stroke-width="0.85" />
<text x="652.1" y="402.7" font-size="8.05" text-anchor="middle" fill="#1c1c1c" stroke="#1c1c1c" stroke-width="0.2" >300</text>
<line x1="748.59" y1="405.4" x2="764.28" y2="405.4" stroke="#262626" stroke-width="0.8" />
<line x1="749.29" y1="408.7" x2="755.89" y2="402.1" stroke="#151515" stroke-width="1.2" />
<line x1="756.38" y1="408.7" x2="762.98" y2="402.1" stroke="#151515" stroke-width="1.2" />
<line x1="752.5" y1="396.5" x2="752.5" y2="407" stroke="#262626" stroke-width="0.85" />
<text x="741.79" y="402.7" font-size="8.05" text-anchor="middle" fill="#1c1c1c" stroke="#1c1c1c" stroke-width="0.2" >300</text>
<line x1="855.99" y1="405.4" x2="871.67" y2="405.4" stroke="#262626" stroke-width="0.8" />
<line x1="856.69" y1="408.7" x2="863.29" y2="402.1" stroke="#151515" stroke-width="1.2" />
<line x1="863.77" y1="408.7" x2="870.37" y2="402.1" stroke="#151515" stroke-width="1.2" />
<line x1="859.5" y1="396.5" x2="859.5" y2="407" stroke="#262626" stroke-width="0.85" />
<text x="849.19" y="402.7" font-size="8.05" text-anchor="middle" fill="#1c1c1c" stroke="#1c1c1c" stroke-width="0.2" >300</text>
<line x1="1017.67" y1="405.4" x2="1033.35" y2="405.4" stroke="#262626" stroke-width="0.8" />
<line x1="1018.37" y1="408.7" x2="1024.97" y2="402.1" stroke="#151515" stroke-width="1.2" />
<line x1="1025.45" y1="408.7" x2="1032.05" y2="402.1" stroke="#151515" stroke-width="1.2" />
<line x1="1021.5" y1="396.5" x2="1021.5" y2="407" stroke="#262626" stroke-width="0.85" />
<text x="1010.87" y="402.7" font-size="8.05" text-anchor="middle" fill="#1c1c1c" stroke="#1c1c1c" stroke-width="0.2" >300</text>
<line x1="1125.06" y1="405.4" x2="1140.74" y2="405.4" stroke="#262626" stroke-width="0.8" />
<line x1="1125.76" y1="408.7" x2="1132.36" y2="402.1" stroke="#151515" stroke-width="1.2" />
<line x1="1132.84" y1="408.7" x2="1139.44" y2="402.1" stroke="#151515" stroke-width="1.2" />
<line x1="1129.5" y1="396.5" x2="1129.5" y2="407" stroke="#262626" stroke-width="0.85" />
<text x="1118.26" y="402.7" font-size="8.05" text-anchor="middle" fill="#1c1c1c" stroke="#1c1c1c" stroke-width="0.2" >300</text>
<line x1="1050.3" y1="193.1" x2="1055.7" y2="187.7" stroke="#6e6e6e" stroke-width="0.8" />
<line x1="1093.3" y1="193.1" x2="1098.7" y2="187.7" stroke="#6e6e6e" stroke-width="0.8" />
<line x1="1135.5" y1="193.1" x2="1140.9" y2="187.7" stroke="#a9a9a9" stroke-width="0.8" />
<text x="1074.4" y="187.6" font-size="8.05" text-anchor="middle" fill="#1c1c1c" stroke="#1c1c1c" stroke-width="0.2" >1750</text>
<text x="1118" y="187.6" font-size="8.05" text-anchor="middle" fill="#1c1c1c" stroke="#1c1c1c" stroke-width="0.2" >1750</text>
<polyline points="1027,205.6 1044,205.6 1053,190.4" fill="none" stroke="#a9a9a9" stroke-width="0.75" />
<text x="1035.6" y="202.8" font-size="8.05" text-anchor="middle" fill="#1c1c1c" stroke="#1c1c1c" stroke-width="0.2" >100</text>
<polyline points="1119.5,201.2 1103.6,201.2 1096,190.4" fill="none" stroke="#a9a9a9" stroke-width="0.75" />
<text x="1112.4" y="199" font-size="8.05" text-anchor="middle" fill="#1c1c1c" stroke="#1c1c1c" stroke-width="0.2" >100</text>
</g>
<g id="titleblock" opacity="0.999">
<line x1="656.3" y1="721.5" x2="656.3" y2="890.3" stroke="#1d1d1d" stroke-width="1.3" />
<line x1="655.7" y1="722" x2="1200" y2="722" stroke="#1d1d1d" stroke-width="1.3" />
<line x1="686.85" y1="722" x2="686.85" y2="800.3" stroke="#6a6a6a" stroke-width="0.9" />
<line x1="717.4" y1="722" x2="717.4" y2="890.3" stroke="#1d1d1d" stroke-width="1.2" />
<line x1="747.95" y1="722" x2="747.95" y2="800.3" stroke="#6a6a6a" stroke-width="0.9" />
<line x1="778.5" y1="722" x2="778.5" y2="890.3" stroke="#1d1d1d" stroke-width="1.2" />
<line x1="824.32" y1="722" x2="824.32" y2="890.3" stroke="#1d1d1d" stroke-width="1.2" />
<line x1="854.88" y1="722" x2="854.88" y2="890.3" stroke="#1d1d1d" stroke-width="1.2" />
<line x1="656.3" y1="737.4" x2="854.88" y2="737.4" stroke="#6a6a6a" stroke-width="0.9" />
<line x1="656.3" y1="752.5" x2="854.88" y2="752.5" stroke="#6a6a6a" stroke-width="0.9" />
<line x1="656.3" y1="767.7" x2="854.88" y2="767.7" stroke="#6a6a6a" stroke-width="0.9" />
<line x1="656.3" y1="783.2" x2="854.88" y2="783.2" stroke="#6a6a6a" stroke-width="0.9" />
<line x1="656.3" y1="799.9" x2="854.88" y2="799.9" stroke="#4a4a4a" stroke-width="1.1" />
<line x1="656.3" y1="813.8" x2="854.88" y2="813.8" stroke="#6a6a6a" stroke-width="0.9" />
<line x1="656.3" y1="828.9" x2="854.88" y2="828.9" stroke="#6a6a6a" stroke-width="0.9" />
<line x1="656.3" y1="844.3" x2="854.88" y2="844.3" stroke="#6a6a6a" stroke-width="0.9" />
<line x1="656.3" y1="859.4" x2="854.88" y2="859.4" stroke="#6a6a6a" stroke-width="0.9" />
<line x1="656.3" y1="875" x2="854.88" y2="875" stroke="#6a6a6a" stroke-width="0.9" />
<line x1="854.88" y1="752.5" x2="1200" y2="752.5" stroke="#1d1d1d" stroke-width="1.2" />
<line x1="854.88" y1="801" x2="1200" y2="801" stroke="#1d1d1d" stroke-width="1.3" />
<line x1="854.88" y1="844.9" x2="1200" y2="844.9" stroke="#1d1d1d" stroke-width="1.2" />
<line x1="1070.4" y1="801" x2="1070.4" y2="890.3" stroke="#1d1d1d" stroke-width="1.2" />
<line x1="1116" y1="801" x2="1116" y2="844.9" stroke="#1d1d1d" stroke-width="1.2" />
<line x1="1162.5" y1="801" x2="1162.5" y2="844.9" stroke="#1d1d1d" stroke-width="1.2" />
<line x1="1070.4" y1="815.6" x2="1200" y2="815.6" stroke="#1d1d1d" stroke-width="1.1" />
<text x="660.5" y="795.5" font-size="12.4" text-anchor="start" fill="#151515" stroke="#151515" stroke-width="0.12" textLength="26" lengthAdjust="spacingAndGlyphs" >Изм.</text>
<text x="688.8" y="795.5" font-size="12.4" text-anchor="start" fill="#151515" stroke="#151515" stroke-width="0.12" textLength="26.5" lengthAdjust="spacingAndGlyphs" >Кол.</text>
<text x="718.8" y="795.5" font-size="12.4" text-anchor="start" fill="#151515" stroke="#151515" stroke-width="0.12" textLength="27.5" lengthAdjust="spacingAndGlyphs" >Лист</text>
<text x="749" y="795.8" font-size="10" text-anchor="start" fill="#151515" stroke="#151515" stroke-width="0.12" textLength="28.6" lengthAdjust="spacingAndGlyphs" >№док.</text>
<text x="782" y="795.5" font-size="12.4" text-anchor="start" fill="#151515" stroke="#151515" stroke-width="0.12" textLength="33" lengthAdjust="spacingAndGlyphs" >Подп.</text>
<text x="825.7" y="795.5" font-size="12.4" text-anchor="start" fill="#151515" stroke="#151515" stroke-width="0.12" textLength="29.5" lengthAdjust="spacingAndGlyphs" >Дата</text>
<text x="659.5" y="825.8" font-size="11.1" text-anchor="start" fill="#151515" stroke="#151515" stroke-width="0.12" textLength="46.5" lengthAdjust="spacingAndGlyphs" >Разработал</text>
<text x="721.8" y="825" font-size="11.1" text-anchor="start" fill="#151515" stroke="#151515" stroke-width="0.12" textLength="45.8" lengthAdjust="spacingAndGlyphs" >Шабалина</text>
<text x="829.6" y="826.8" font-size="11.1" text-anchor="start" fill="#151515" stroke="#151515" stroke-width="0.12" textLength="20.2" lengthAdjust="spacingAndGlyphs" >07.21</text>
<text x="659.5" y="855.5" font-size="11.1" text-anchor="start" fill="#151515" stroke="#151515" stroke-width="0.12" textLength="34.2" lengthAdjust="spacingAndGlyphs" >Н. контр.</text>
<text x="722" y="855" font-size="11.1" text-anchor="start" fill="#151515" stroke="#151515" stroke-width="0.12" textLength="51" lengthAdjust="spacingAndGlyphs" >Двоеглазов</text>
<text x="829.6" y="857.5" font-size="11.1" text-anchor="start" fill="#151515" stroke="#151515" stroke-width="0.12" textLength="20.2" lengthAdjust="spacingAndGlyphs" >07.21</text>
<text x="659.5" y="872" font-size="11.1" text-anchor="start" fill="#151515" stroke="#151515" stroke-width="0.12" textLength="16.2" lengthAdjust="spacingAndGlyphs" >ГИП</text>
<text x="724.5" y="871.3" font-size="11.1" text-anchor="start" fill="#151515" stroke="#151515" stroke-width="0.12" textLength="46" lengthAdjust="spacingAndGlyphs" >Коротаев</text>
<text x="829.6" y="872.5" font-size="11.1" text-anchor="start" fill="#151515" stroke="#151515" stroke-width="0.12" textLength="20.2" lengthAdjust="spacingAndGlyphs" >07.21</text>
<text x="1042.5" y="742" font-size="12.3" text-anchor="middle" fill="#151515" stroke="#151515" stroke-width="0.12" textLength="60.6" lengthAdjust="spacingAndGlyphs" >11-21П-АР</text>
<text x="887.4" y="763.6" font-size="12.3" text-anchor="start" fill="#151515" stroke="#151515" stroke-width="0.12" textLength="321.4" lengthAdjust="spacingAndGlyphs" >Реконструкция здания склада, расположенное по адресу:</text>
<text x="881.4" y="777.4" font-size="12.3" text-anchor="start" fill="#151515" stroke="#151515" stroke-width="0.12" textLength="333.1" lengthAdjust="spacingAndGlyphs" >г. Киров, Ленинский район, ул. Маклина, д. 77 (кадастровый</text>
<text x="925" y="791.5" font-size="12.3" text-anchor="start" fill="#151515" stroke="#151515" stroke-width="0.12" textLength="247.4" lengthAdjust="spacingAndGlyphs" >номер земельного участка 43:40:000314:457</text>
<text x="926" y="825.4" font-size="10.4" text-anchor="start" fill="#151515" stroke="#151515" stroke-width="0.12" textLength="88" lengthAdjust="spacingAndGlyphs" font-style="italic" >ООО "ИРИДА-43"</text>
<text x="888.6" y="868" font-size="10.4" text-anchor="start" fill="#151515" stroke="#151515" stroke-width="0.12" textLength="139.8" lengthAdjust="spacingAndGlyphs" >Монтажный план 1-го этажа</text>
<text x="1072.5" y="812.5" font-size="12.3" text-anchor="start" fill="#151515" stroke="#151515" stroke-width="0.12" textLength="42.9" lengthAdjust="spacingAndGlyphs" >Стадия</text>
<text x="1124.4" y="812.5" font-size="12.3" text-anchor="start" fill="#151515" stroke="#151515" stroke-width="0.12" textLength="27.6" lengthAdjust="spacingAndGlyphs" >Лист</text>
<text x="1168.5" y="812.5" font-size="12.3" text-anchor="start" fill="#151515" stroke="#151515" stroke-width="0.12" textLength="41.2" lengthAdjust="spacingAndGlyphs" >Листов</text>
<text x="1094.4" y="834" font-size="12.3" text-anchor="middle" fill="#151515" stroke="#151515" stroke-width="0.12" >ЭП</text>
<text x="1142.4" y="834" font-size="12.3" text-anchor="middle" fill="#151515" stroke="#151515" stroke-width="0.12" >14</text>
<text x="1189" y="834" font-size="12.3" text-anchor="middle" fill="#151515" stroke="#151515" stroke-width="0.12" >18</text>
<text x="1106.4" y="869.5" font-size="12.7" text-anchor="start" fill="#151515" stroke="#151515" stroke-width="0.12" textLength="85.2" lengthAdjust="spacingAndGlyphs" >ООО "Альянс"</text>
<path d="M785.5 818.5 L783.5 814.2 L785 813 L792.2 815.2 M791.2 809.6 L788.2 827.6 L791.6 818 L791.2 828 L794.6 818 L795 827.8 Q796.6 827 798.2 823.4 Q799.4 822 800.8 822.6 Q797.4 822.4 796.8 825.6 Q797 828.6 799.6 827.4 Q801 826 801.2 823 L801.4 827.8 Q804.6 824 809.4 811.2 Q810.6 810.2 809.8 813.6 L802 838.4 Q800.8 841.8 800.2 839.2 Q800.2 835.4 803.4 829 L807.2 822 Q812 814 815.8 812.6 Q816.8 812.8 815.6 816 L807.8 838.2 Q806.6 841.2 806.2 838.8 Q806.4 834 809.2 829.2 Q812 824.8 818.4 823 L822.6 821.8 M818 825 Q821.6 822.4 826.4 821.6" fill="none" stroke="#0c0c0c" stroke-width="1.1" stroke-linejoin="round" stroke-linecap="round"/>
<path d="M787.4 864.2 Q796 853 803.4 846 Q801.4 849.4 799.6 852.4 Q803 850.6 806.2 852.8 Q804.4 855 804.8 857.2 Q808.6 855.6 812.4 858 Q818 851.6 832 847 M788 863 L802.6 848 M818.4 854.6 L802 883.6 M821.4 857.6 Q812 868 806.6 876.4 Q811 868 816.6 859.6 Q808 868 803.8 876.2 Q808 866 814 858.4 Q804 866 799.6 874.8 M802.6 862.6 Q795 862 789 869.6 Q785.6 874.6 788.4 876.2 Q793 877.6 799.4 871.6 Q804.4 866 802.6 862.6 Q798 862.6 793.6 868.4 Q790.4 873.4 793.4 875 Q797.6 875.6 801.6 870.4 M797 866 Q799.4 865 800 867 Q799.4 869.6 796.6 869.6 Q799.6 870.4 799 873 Q797.4 875.4 795 874.6" fill="none" stroke="#0c0c0c" stroke-width="1.1" stroke-linejoin="round" stroke-linecap="round"/>
</g>
</svg>
</body>
</html>
